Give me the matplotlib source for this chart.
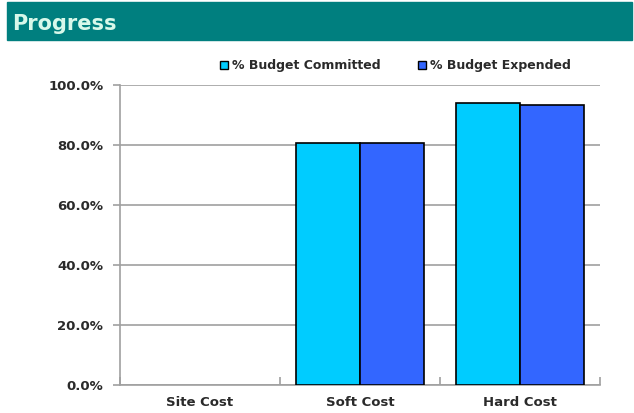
import matplotlib.pyplot as plt
from matplotlib.patches import Rectangle
import numpy as np

categories = ["Site Cost", "Soft Cost", "Hard Cost"]
committed = [0.0, 80.8, 94.1]
expended = [0.0, 80.8, 93.3]
series_names = ["% Budget Committed", "% Budget Expended"]
yticks = [0, 20, 40, 60, 80, 100]

plt.rcParams["font.family"] = ["DejaVu Sans"]
plt.rcParams["font.weight"] = "bold"

fig = plt.figure(figsize=(6.34, 4.13), dpi=100)

# header band
fig.patches.append(Rectangle((7 / 634, 1 - 40 / 413), 625 / 634, 38 / 413,
                             transform=fig.transFigure, color="#007f7f", zorder=0))
fig.text(12 / 634, 1 - 30 / 413, "Progress", color="#d8f8ea", fontsize=15,
         fontweight="bold", va="baseline", ha="left")

ax = fig.add_axes([120 / 634, 1 - 385 / 413, 480 / 634, 300 / 413])
x = np.arange(len(categories))
w = 0.4
# no outline on empty bars
lw_c = [1.2 if v > 0 else 0 for v in committed]
lw_e = [1.2 if v > 0 else 0 for v in expended]
ax.bar(x - w / 2, committed, w, color="#00ccff", edgecolor="black", linewidth=lw_c,
       label=series_names[0], zorder=3)
ax.bar(x + w / 2, expended, w, color="#3366ff", edgecolor="black", linewidth=lw_e,
       label=series_names[1], zorder=3)

ax.set_xlim(-0.5, 2.5)
ax.set_ylim(0, 100)
ax.set_yticks(yticks)
ax.set_yticklabels([f"{v:.1f}%" for v in yticks], fontsize=9.5, color="#2a2a2a")
ax.yaxis.grid(True, color="#a0a0a0", linewidth=1.2, zorder=0)
ax.set_axisbelow(True)

ax.set_xticks([-0.5, 0.5, 1.5, 2.5])
ax.set_xticklabels([])
ax.set_xticks(x, minor=True)
ax.set_xticklabels(categories, minor=True, fontsize=9.5, color="#2a2a2a")
ax.tick_params(axis="x", which="major", direction="in", length=6, color="#a0a0a0", width=1.2)
ax.tick_params(axis="x", which="minor", length=0, pad=8)
ax.tick_params(axis="y", length=5, color="#a0a0a0", width=1.2, pad=7)

for s in ["top", "right"]:
    ax.spines[s].set_visible(False)
for s in ["left", "bottom"]:
    ax.spines[s].set_color("#a0a0a0")
    ax.spines[s].set_linewidth(1.2)

leg = ax.legend(loc="center", bbox_to_anchor=(0.573, 1 + 19 / 300), ncol=2, frameon=False,
                prop={"size": 9, "weight": "bold"}, handlelength=0.65, handleheight=0.65,
                handletextpad=0.3, columnspacing=3.0, borderaxespad=0)
for t in leg.get_texts():
    t.set_color("#2a2a2a")
for h in leg.legend_handles:
    h.set_edgecolor("black")
    h.set_linewidth(1.0)

fig.savefig("out.png", dpi=100)
